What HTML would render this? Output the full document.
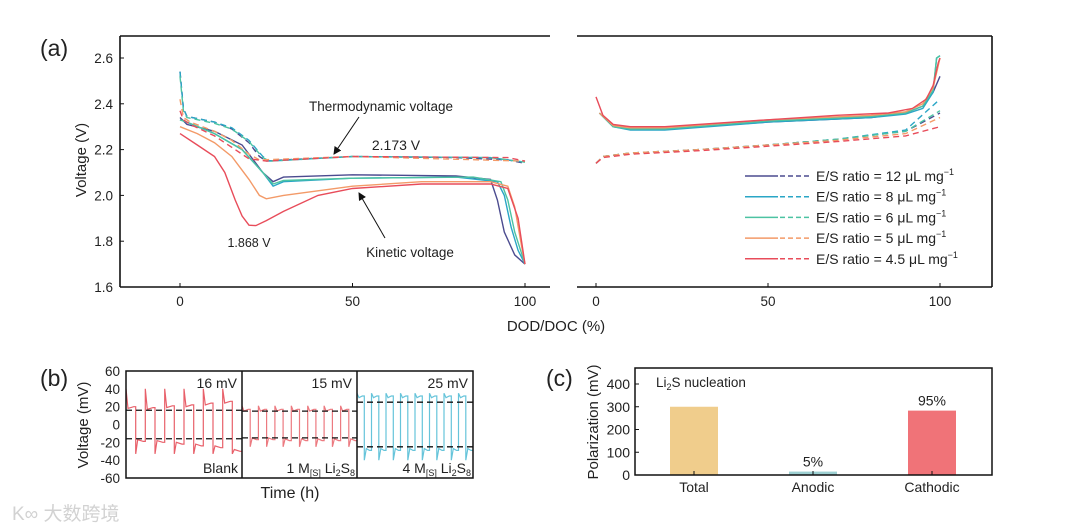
<!DOCTYPE html>
<html><head><meta charset="utf-8">
<style>
body{margin:0;background:#fff;}
svg{display:block;font-family:"Liberation Sans","Noto Sans CJK SC",sans-serif;}
text{fill:#222;}
</style></head>
<body>
<svg id="fig" width="1080" height="531" viewBox="0 0 1080 531" xmlns="http://www.w3.org/2000/svg">
  <text x="40" y="56" font-size="23">(a)</text>
  <g stroke="#111" stroke-width="1.6" fill="none">
    <line x1="120" y1="36" x2="550" y2="36"/>
    <line x1="120" y1="36" x2="120" y2="287"/>
    <line x1="120" y1="287" x2="550" y2="287"/>
    <line x1="577" y1="36" x2="992" y2="36"/>
    <line x1="992" y1="36" x2="992" y2="287"/>
    <line x1="577" y1="287" x2="992" y2="287"/>
  </g>
  <g id="aTicks"></g>
  <text transform="translate(86,160) rotate(-90)" font-size="15" text-anchor="middle">Voltage (V)</text>
  <text x="556" y="331" font-size="15" text-anchor="middle">DOD/DOC (%)</text>
  <g id="aCurves"></g>
  <text x="381" y="111" font-size="13.5" text-anchor="middle">Thermodynamic voltage</text>
  <text x="396" y="150" font-size="14" text-anchor="middle">2.173 V</text>
  <text x="249" y="247" font-size="12.5" text-anchor="middle">1.868 V</text>
  <text x="410" y="257" font-size="13.5" text-anchor="middle">Kinetic voltage</text>
  <defs><marker id="ah" markerWidth="8" markerHeight="8" refX="7" refY="4" orient="auto"><path d="M0,0 L8,4 L0,8 z" fill="#111"/></marker></defs>
  <line x1="359" y1="117" x2="334" y2="154" stroke="#111" stroke-width="1" marker-end="url(#ah)"/>
  <line x1="385" y1="238" x2="359" y2="193" stroke="#111" stroke-width="1" marker-end="url(#ah)"/>
  <g id="legend"></g>

  <text x="40" y="386" font-size="23">(b)</text>
  <g id="bGroup"></g>
  <text x="290" y="498" font-size="16" text-anchor="middle">Time (h)</text>
  <text transform="translate(88,425) rotate(-90)" font-size="15" text-anchor="middle">Voltage (mV)</text>

  <text x="546" y="386" font-size="23">(c)</text>
  <g id="cGroup"></g>
  <text transform="translate(598,422) rotate(-90)" font-size="15" text-anchor="middle">Polarization (mV)</text>
  <text x="656" y="387" font-size="13.5">Li<tspan font-size="9" dy="3">2</tspan><tspan dy="-3">S nucleation</tspan></text>

  <text x="12" y="520" font-size="19" style="fill:#d2d2d2">K∞ 大数跨境</text>
</svg>
<script>
// ===== Panel (a) data =====
const seriesNames = ["12","8","6","5","4.5"];
const seriesColors = ["#4b4b8f","#2aa6c6","#4cc3a2","#f39a68","#e84c5a"];
const dischargeKinetic = [
 [[0,2.34],[2,2.31],[10,2.28],[18,2.22],[24,2.10],[27,2.06],[30,2.08],[50,2.09],[80,2.085],[90,2.07],[92,1.98],[94,1.84],[97,1.74],[100,1.70]],
 [[0,2.33],[2,2.32],[10,2.27],[18,2.20],[24,2.10],[27,2.04],[30,2.06],[50,2.075],[80,2.08],[92,2.06],[94,2.0],[96,1.86],[98,1.76],[100,1.70]],
 [[0,2.33],[2,2.32],[10,2.27],[18,2.20],[24,2.10],[27,2.05],[30,2.065],[50,2.075],[85,2.08],[93,2.06],[95,1.98],[97,1.84],[100,1.70]],
 [[0,2.30],[5,2.27],[10,2.23],[15,2.17],[20,2.07],[23,2.0],[25,1.985],[30,2.0],[40,2.02],[50,2.04],[70,2.06],[90,2.06],[95,2.04],[97,1.95],[99,1.78],[100,1.70]],
 [[0,2.27],[5,2.22],[10,2.17],[13,2.10],[16,1.98],[18,1.91],[20,1.87],[22,1.868],[25,1.89],[30,1.93],[40,2.0],[50,2.03],[70,2.05],[90,2.05],[95,2.03],[98,1.90],[100,1.70]]
];
const dischargeThermo = [
 [[0,2.54],[1,2.38],[2,2.345],[10,2.32],[15,2.29],[20,2.23],[23,2.17],[25,2.15],[30,2.155],[50,2.17],[80,2.165],[95,2.155],[100,2.14]],
 [[0,2.54],[1,2.38],[2,2.345],[10,2.32],[15,2.295],[20,2.24],[24,2.17],[26,2.15],[50,2.17],[90,2.165],[100,2.145]],
 [[0,2.52],[1,2.37],[2,2.34],[10,2.315],[15,2.29],[20,2.235],[24,2.165],[26,2.15],[50,2.17],[90,2.165],[100,2.145]],
 [[0,2.42],[1,2.34],[3,2.32],[10,2.28],[15,2.24],[20,2.18],[23,2.155],[50,2.17],[100,2.15]],
 [[0,2.37],[1,2.33],[3,2.31],[10,2.26],[16,2.20],[20,2.16],[25,2.15],[50,2.17],[95,2.165],[100,2.15]]
];
const chargeKinetic = [
 [[1,2.36],[5,2.30],[10,2.29],[20,2.29],[50,2.32],[80,2.34],[90,2.36],[95,2.39],[98,2.45],[100,2.52]],
 [[1,2.36],[5,2.30],[10,2.285],[20,2.285],[50,2.32],[80,2.34],[90,2.355],[95,2.38],[98,2.45],[99,2.6],[100,2.61]],
 [[1,2.36],[5,2.30],[10,2.29],[20,2.29],[50,2.325],[80,2.345],[90,2.36],[95,2.39],[98,2.46],[99,2.6],[100,2.61]],
 [[1,2.36],[5,2.305],[10,2.295],[20,2.295],[50,2.33],[80,2.35],[90,2.365],[95,2.40],[98,2.47],[100,2.60]],
 [[0,2.43],[2,2.35],[5,2.31],[10,2.30],[20,2.30],[50,2.33],[70,2.35],[85,2.36],[92,2.38],[96,2.42],[98,2.48],[99.5,2.58],[100,2.60]]
];
const chargeThermo = [
 [[0,2.14],[2,2.17],[10,2.185],[30,2.20],[50,2.22],[70,2.245],[90,2.28],[100,2.36]],
 [[0,2.14],[2,2.17],[10,2.185],[30,2.20],[50,2.22],[70,2.245],[90,2.285],[100,2.42]],
 [[0,2.14],[2,2.17],[10,2.185],[30,2.20],[50,2.22],[70,2.245],[90,2.28],[100,2.37]],
 [[0,2.14],[2,2.17],[10,2.185],[30,2.20],[50,2.22],[70,2.24],[90,2.27],[100,2.34]],
 [[0,2.14],[2,2.165],[10,2.18],[30,2.195],[50,2.215],[70,2.235],[90,2.26],[100,2.30]]
];
const aYTicks = [1.6,1.8,2.0,2.2,2.4,2.6];
const aXTicks = [0,50,100];

// ===== Panel (b) data =====
const bLabels = ["16 mV","15 mV","25 mV"];
const bRef = [16,15,25];
const bHigh = [[18,17,19,20,22,24],[15,15,15,15,15,15,15],[30,30,30,30,30,30,30,30]];
const bLow  = [[-17,-18,-20,-22,-24,-28],[-15,-15,-16,-16,-16,-16,-16],[-27,-27,-27,-27,-27,-27,-27,-27]];
const bSpikeHigh = [40,21,35];
const bSpikeLow = [-33,-25,-40];
const bYTicks = [-60,-40,-20,0,20,40,60];

// ===== Panel (c) data =====
const cCats = ["Total","Anodic","Cathodic"];
const cVals = [300,15,283];
const cPct = ["","5%","95%"];
const cYTicks = [0,100,200,300,400];
</script>
<script>
const NS="http://www.w3.org/2000/svg";
function mk(tag,attrs,parent){const e=document.createElementNS(NS,tag);for(const k in attrs)e.setAttribute(k,attrs[k]);parent.appendChild(e);return e;}
const aY = v => 58 + (2.6 - v) * 229;
const aXL = p => 180 + p * 3.45;
const aXR = p => 596 + p * 3.44;
function pathD(pts,fx,fy){return pts.map((p,i)=>(i?"L":"M")+fx(p[0]).toFixed(1)+","+fy(p[1]).toFixed(1)).join(" ");}

const aT=document.getElementById("aTicks");
aYTicks.forEach(v=>{
  const t=mk("text",{x:113,y:aY(v)+5,"font-size":13.5,"text-anchor":"end"},aT);t.textContent=v.toFixed(1);
  
  
  mk("line",{x1:120,y1:aY(v),x2:124,y2:aY(v),stroke:"#111","stroke-width":1},aT);
});
aXTicks.forEach(v=>{
  [aXL,aXR].forEach(f=>{
    const t=mk("text",{x:f(v),y:306,"font-size":13.5,"text-anchor":"middle"},aT);t.textContent=v;
    
    
    mk("line",{x1:f(v),y1:287,x2:f(v),y2:283,stroke:"#111","stroke-width":1},aT);
  });
});
const aC=document.getElementById("aCurves");
for(let i=0;i<5;i++){
  const c=seriesColors[i];
  const p1=mk("path",{d:pathD(dischargeThermo[i],aXL,aY),fill:"none",stroke:c,"stroke-width":1.4,"stroke-dasharray":"6,4"},aC);
  
  
  const p2=mk("path",{d:pathD(dischargeKinetic[i],aXL,aY),fill:"none",stroke:c,"stroke-width":1.4},aC);
  
  
  const p3=mk("path",{d:pathD(chargeThermo[i],aXR,aY),fill:"none",stroke:c,"stroke-width":1.4,"stroke-dasharray":"6,4"},aC);
  
  
  const p4=mk("path",{d:pathD(chargeKinetic[i],aXR,aY),fill:"none",stroke:c,"stroke-width":1.4},aC);
  
  
}
const lg=document.getElementById("legend");
for(let i=0;i<5;i++){
  const y=176+i*20.7;
  const g=mk("g",{},lg);
  
  
  mk("line",{x1:745,y1:y,x2:778,y2:y,stroke:seriesColors[i],"stroke-width":1.5},g);
  mk("line",{x1:780,y1:y,x2:812,y2:y,stroke:seriesColors[i],"stroke-width":1.5,"stroke-dasharray":"5,3"},g);
  const t=mk("text",{x:816,y:y+5,"font-size":14},g);
  t.innerHTML="E/S ratio = "+seriesNames[i]+" μL mg<tspan font-size='9' dy='-6'>−1</tspan>";
}

const bG=document.getElementById("bGroup");
const bY = v => 424.5 - v * 0.892;
const bEdges=[126,242,357,473];
bYTicks.forEach(v=>{
  const t=mk("text",{x:120,y:bY(v)+5,"font-size":13.5,"text-anchor":"end"},bG);t.textContent=v;
  
  
});
const bColors=["#e8606a","#ec7a80","#66c4da"];
for(let k=0;k<3;k++){
  const x0=bEdges[k],x1=bEdges[k+1];
  const n=bHigh[k].length;
  const period=(x1-x0)/n;
  const bX = t => x0 + t * period;
  let d="";
  for(let i=0;i<n;i++){
    const h=bHigh[k][i], l=bLow[k][i];
    const sx=bX(i), mx=bX(i+0.5);
    d+=(i?"L":"M")+sx.toFixed(1)+","+bY(bSpikeHigh[k]).toFixed(1)+" L"+(sx+2).toFixed(1)+","+bY(h).toFixed(1)+" L"+(mx-2).toFixed(1)+","+bY(h+2).toFixed(1)+" L"+mx.toFixed(1)+","+bY(h+2).toFixed(1);
    d+=" L"+mx.toFixed(1)+","+bY(bSpikeLow[k]).toFixed(1)+" L"+(mx+2).toFixed(1)+","+bY(l).toFixed(1)+" L"+(bX(i+1)-2).toFixed(1)+","+bY(l-2).toFixed(1)+" L"+bX(i+1).toFixed(1)+","+bY(l-2).toFixed(1)+" ";
  }
  const p=mk("path",{d:d,fill:"none",stroke:bColors[k],"stroke-width":1.2},bG);
  
  
  [bRef[k],-bRef[k]].forEach(v=>{
    const l=mk("line",{x1:x0,y1:bY(v),x2:x1,y2:bY(v),stroke:"#111","stroke-width":1.3,"stroke-dasharray":"6,4"},bG);
    
    
  });
  const t=mk("text",{x:x1-5,y:388,"font-size":14,"text-anchor":"end"},bG);t.textContent=bLabels[k];
  
  
}
mk("rect",{x:126,y:371,width:347,height:107,fill:"none",stroke:"#111","stroke-width":1.5},bG);
mk("line",{x1:242,y1:371,x2:242,y2:478,stroke:"#111","stroke-width":1.5},bG);
mk("line",{x1:357,y1:371,x2:357,y2:478,stroke:"#111","stroke-width":1.5},bG);
const sub1=mk("text",{x:238,y:473,"font-size":14,"text-anchor":"end"},bG);sub1.textContent="Blank";


const sub2=mk("text",{x:355,y:473,"font-size":14,"text-anchor":"end"},bG);
sub2.innerHTML="1 M<tspan font-size='9' dy='3'>[S]</tspan><tspan dy='-3'> Li</tspan><tspan font-size='9' dy='3'>2</tspan><tspan dy='-3'>S</tspan><tspan font-size='9' dy='3'>8</tspan>";


const sub3=mk("text",{x:471,y:473,"font-size":14,"text-anchor":"end"},bG);
sub3.innerHTML="4 M<tspan font-size='9' dy='3'>[S]</tspan><tspan dy='-3'> Li</tspan><tspan font-size='9' dy='3'>2</tspan><tspan dy='-3'>S</tspan><tspan font-size='9' dy='3'>8</tspan>";



const cG=document.getElementById("cGroup");
const cY = v => 475 - v * 0.2275;
const cX = i => 694 + i * 119;
const cColors=["#f0cd8c","#9dd0d2","#f07378"];
cYTicks.forEach(v=>{
  const t=mk("text",{x:630,y:cY(v)+5,"font-size":14,"text-anchor":"end"},cG);t.textContent=v;
  
  
  mk("line",{x1:635,y1:cY(v),x2:639,y2:cY(v),stroke:"#111","stroke-width":1},cG);
});
cCats.forEach((c,i)=>{
  const r=mk("rect",{x:cX(i)-24,y:cY(cVals[i]),width:48,height:475-cY(cVals[i]),fill:cColors[i]},cG);
  
  
  mk("line",{x1:cX(i),y1:475,x2:cX(i),y2:471,stroke:"#111","stroke-width":1},cG);
  const t=mk("text",{x:cX(i),y:492,"font-size":14,"text-anchor":"middle"},cG);t.textContent=c;
  
  
  if(cPct[i]){
    const pt=mk("text",{x:cX(i),y:cY(cVals[i])-5,"font-size":14,"text-anchor":"middle"},cG);pt.textContent=cPct[i];
    
    
  }
});
mk("rect",{x:635,y:368,width:357,height:107,fill:"none",stroke:"#111","stroke-width":1.5},cG);
</script>
</body></html>
